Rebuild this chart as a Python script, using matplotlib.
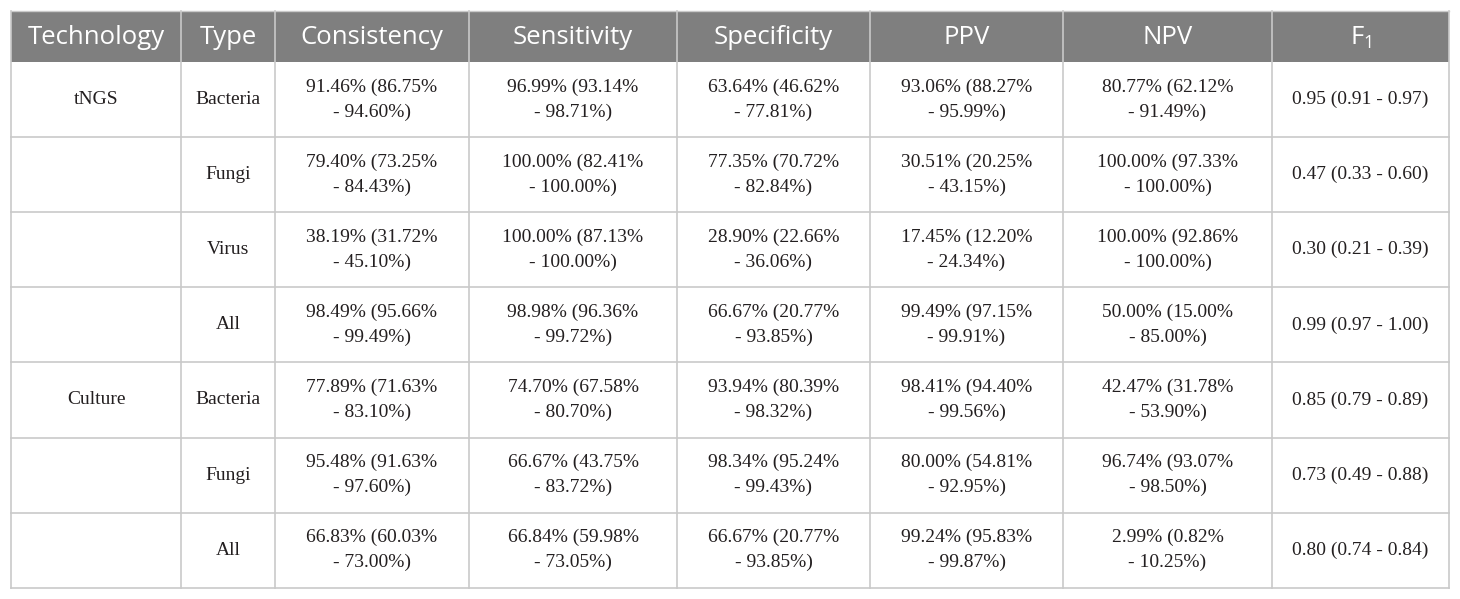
import matplotlib
matplotlib.use("Agg")
import matplotlib.pyplot as plt
from matplotlib.patches import Rectangle

plt.rcParams['mathtext.fontset'] = 'custom'
plt.rcParams['mathtext.rm'] = 'Open Sans'
plt.rcParams['mathtext.it'] = 'Open Sans'

headers = ["Technology", "Type", "Consistency", "Sensitivity", "Specificity", "PPV", "NPV", "F$_1$"]
technology = ["tNGS", "", "", "", "Culture", "", ""]
types = ["Bacteria", "Fungi", "Virus", "All", "Bacteria", "Fungi", "All"]

consistency = [(91.46, 86.75, 94.60), (79.40, 73.25, 84.43), (38.19, 31.72, 45.10), (98.49, 95.66, 99.49),
               (77.89, 71.63, 83.10), (95.48, 91.63, 97.60), (66.83, 60.03, 73.00)]
sensitivity = [(96.99, 93.14, 98.71), (100.00, 82.41, 100.00), (100.00, 87.13, 100.00), (98.98, 96.36, 99.72),
               (74.70, 67.58, 80.70), (66.67, 43.75, 83.72), (66.84, 59.98, 73.05)]
specificity = [(63.64, 46.62, 77.81), (77.35, 70.72, 82.84), (28.90, 22.66, 36.06), (66.67, 20.77, 93.85),
               (93.94, 80.39, 98.32), (98.34, 95.24, 99.43), (66.67, 20.77, 93.85)]
ppv = [(93.06, 88.27, 95.99), (30.51, 20.25, 43.15), (17.45, 12.20, 24.34), (99.49, 97.15, 99.91),
       (98.41, 94.40, 99.56), (80.00, 54.81, 92.95), (99.24, 95.83, 99.87)]
npv = [(80.77, 62.12, 91.49), (100.00, 97.33, 100.00), (100.00, 92.86, 100.00), (50.00, 15.00, 85.00),
       (42.47, 31.78, 53.90), (96.74, 93.07, 98.50), (2.99, 0.82, 10.25)]
f1 = [(0.95, 0.91, 0.97), (0.47, 0.33, 0.60), (0.30, 0.21, 0.39), (0.99, 0.97, 1.00),
      (0.85, 0.79, 0.89), (0.73, 0.49, 0.88), (0.80, 0.74, 0.84)]

W, H = 1460, 599
fig = plt.figure(figsize=(W / 100, H / 100), dpi=100)
ax = fig.add_axes([0, 0, 1, 1])
ax.set_xlim(0, W)
ax.set_ylim(H, 0)
ax.axis('off')

col_x = [11, 181, 275, 469, 677, 870, 1063, 1272, 1449]
head_top, head_bot = 11, 62
row_h = 75.1
n_rows = len(types)
row_y = [head_bot + i * row_h for i in range(n_rows + 1)]

line_c = "#c9c9c9"
header_c = "#7f7f7f"

ax.add_patch(Rectangle((col_x[0], head_top), col_x[-1] - col_x[0], head_bot - head_top,
                       facecolor=header_c, edgecolor='none', zorder=1))

# grid lines
for x in col_x:
    ax.plot([x, x], [head_top, row_y[-1]], color=line_c, lw=1.2, zorder=2)
for y in row_y[1:]:
    ax.plot([col_x[0], col_x[-1]], [y, y], color=line_c, lw=1.2, zorder=2)
ax.plot([col_x[0], col_x[-1]], [head_top, head_top], color=line_c, lw=1.0, zorder=2)

# headers
for i, h in enumerate(headers):
    cx = (col_x[i] + col_x[i + 1]) / 2
    ax.text(cx, (head_top + head_bot) / 2 + 1.5, h, color='white', fontsize=18.5, family='Open Sans',
            ha='center', va='center', zorder=3)

serif = 'Liberation Serif'
fs = 14

def pct(t):
    return "%.2f%% (%.2f%%\n- %.2f%%)" % t

def dec(t):
    return "%.2f (%.2f - %.2f)" % t

for r in range(n_rows):
    cy = (row_y[r] + row_y[r + 1]) / 2
    cells = [technology[r], types[r], pct(consistency[r]), pct(sensitivity[r]), pct(specificity[r]),
             pct(ppv[r]), pct(npv[r]), dec(f1[r])]
    for i, c in enumerate(cells):
        if not c:
            continue
        cx = (col_x[i] + col_x[i + 1]) / 2
        ax.text(cx, cy, c, fontsize=fs, family=serif, color='#231f20', ha='center', va='center',
                multialignment='center', linespacing=1.58, zorder=3)

fig.savefig("out.png", dpi=100, facecolor='white')
